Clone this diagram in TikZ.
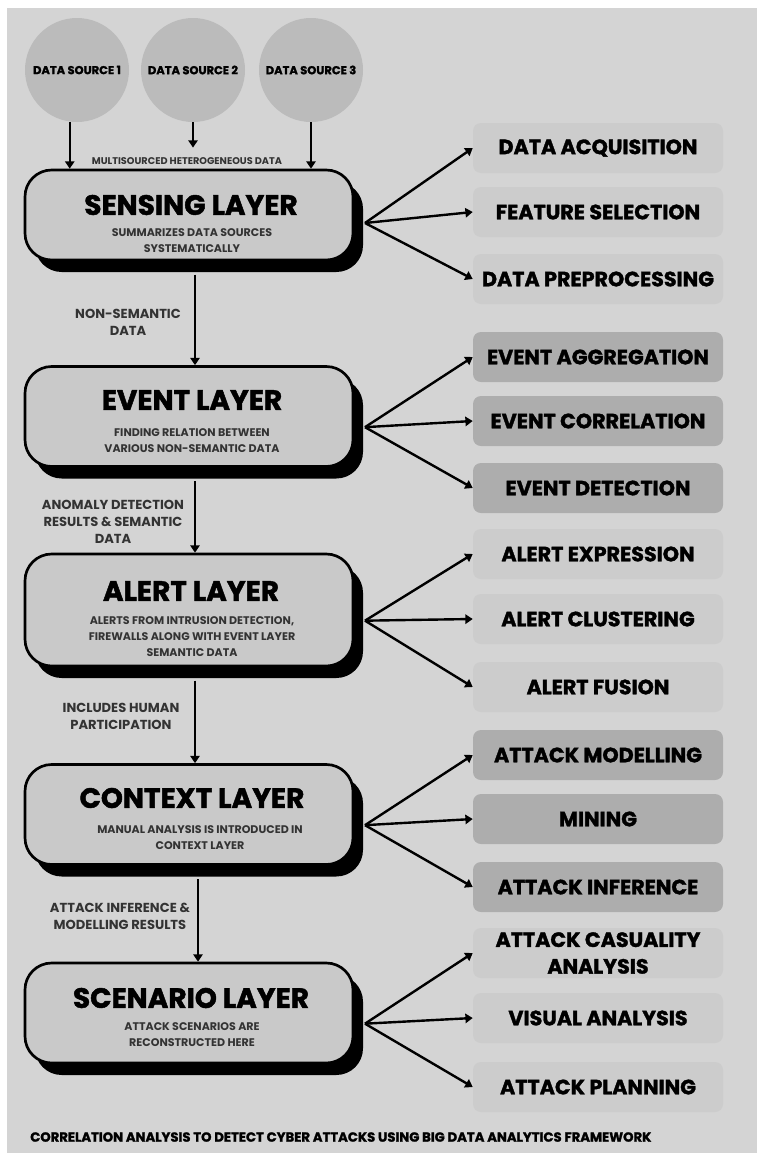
\documentclass[tikz,border=0pt]{standalone}
\usepackage{fontspec}
\newfontfamily\pop{Poppins}
\newfontfamily\popx{Poppins}[BoldFeatures={FakeBold=1.6}]
\usetikzlibrary{arrows.meta,shadows}

\definecolor{bg}{HTML}{D4D4D4}
\definecolor{circfill}{HTML}{BBBBBB}
\definecolor{layerfill}{HTML}{C9C9C9}
\definecolor{lightfill}{HTML}{CCCCCC}
\definecolor{darkfill}{HTML}{ADADAD}
\definecolor{subgray}{HTML}{333333}

\tikzset{
  layerbox/.style={draw=black, line width=2pt, fill=layerfill, rounded corners=20pt,
    minimum width=246pt, minimum height=75pt, inner sep=0pt,
    drop shadow={shadow xshift=7.5pt, shadow yshift=-9pt, fill=black, opacity=1}},
  ltitle/.style={font=\popx\bfseries\fontsize{21}{24}\selectfont, inner sep=0pt},
  lsub/.style={font=\pop\bfseries\fontsize{8.3}{12}\selectfont, text=subgray, align=center, inner sep=0pt},
  source/.style={circle, fill=circfill, minimum size=78pt, inner sep=0pt,
    font=\popx\bfseries\fontsize{8.6}{10}\selectfont},
  subbox/.style={rounded corners=6pt, minimum width=187.5pt, minimum height=37.5pt,
    inner sep=0pt, align=center, font=\popx\bfseries\fontsize{15.5}{20}\selectfont},
  lightbox/.style={subbox, fill=lightfill},
  darkbox/.style={subbox, fill=darkfill},
  edgelabel/.style={font=\pop\bfseries\fontsize{9.8}{12.75}\selectfont, text=subgray, align=center, inner sep=0pt},
  arr/.style={line width=1.8pt, -{Triangle[length=5.5pt,width=7pt]}},
}

\begin{document}
\begin{tikzpicture}[x=0.75pt, y=-0.75pt]
  \useasboundingbox (0,0) rectangle (757,1153);
  \fill[white] (0,0) rectangle (757,1153);
  \fill[bg] (7,8) rectangle (757,1153);

  % data sources
  \node[source] (c1) at (77,70) {DATA SOURCE 1};
  \node[source] (c2) at (193,70) {DATA SOURCE 2};
  \node[source] (c3) at (311,70) {DATA SOURCE 3};

  % layers
  \node[layerbox, minimum height=67.5pt] (sense) at (189,215) {};
  \node[layerbox] (event) at (189,416.5) {};
  \node[layerbox, minimum height=84pt] (alert) at (189,610) {};
  \node[layerbox] (context) at (189,814.5) {};
  \node[layerbox] (scenario) at (189,1013) {};

  \node[ltitle] (senseT) at (191,205) {SENSING LAYER};
  \node[lsub] (senseS) at (192,241) {SUMMARIZES DATA SOURCES\\SYSTEMATICALLY};
  \node[ltitle] (eventT) at (192,400) {EVENT LAYER};
  \node[lsub] (eventS) at (192,441) {FINDING RELATION BETWEEN\\VARIOUS NON-SEMANTIC DATA};
  \node[ltitle] (alertT) at (191,591) {ALERT LAYER};
  \node[lsub] (alertS) at (192,637) {ALERTS FROM INTRUSION DETECTION,\\FIREWALLS ALONG WITH EVENT LAYER\\SEMANTIC DATA};
  \node[ltitle] (contextT) at (192,798) {CONTEXT LAYER};
  \node[lsub] (contextS) at (200,838) {MANUAL ANALYSIS IS INTRODUCED IN\\CONTEXT LAYER};
  \node[ltitle] (scenarioT) at (191,998) {SCENARIO LAYER};
  \node[lsub] (scenarioS) at (192,1035) {ATTACK SCENARIOS ARE\\RECONSTRUCTED HERE};

  % source arrows
  \node[edgelabel, font=\pop\bfseries\fontsize{7.3}{9}\selectfont] (multi) at (187,161) {MULTISOURCED HETEROGENEOUS DATA};
  \draw[arr] (c1.262) -- (c1.262 |- sense.north);
  \coordinate (c2end) at ([yshift=-19pt]c2.south);
  \draw[arr] (c2.south) -- (c2end);
  \draw[arr] (c3.south) -- (c3.south |- sense.north);

  % layer to layer
  \draw[arr] ([xshift=4.5pt,yshift=-10pt]sense.south) -- ([xshift=4.5pt]event.north);
  \draw[arr] ([xshift=4.5pt,yshift=-10pt]event.south) -- ([xshift=4.5pt]alert.north);
  \draw[arr] ([xshift=4.5pt,yshift=-10pt]alert.south) -- ([xshift=4.5pt]context.north);
  \draw[arr] ([xshift=6.75pt,yshift=-10pt]context.south) -- ([xshift=6.75pt]scenario.north);

  \node[edgelabel] (l1) at (128,322) {NON-SEMANTIC\\DATA};
  \node[edgelabel] (l2) at (113,522) {ANOMALY DETECTION\\RESULTS \& SEMANTIC\\DATA};
  \node[edgelabel] (l3) at (121,716) {INCLUDES HUMAN\\PARTICIPATION};
  \node[edgelabel] (l4) at (120,916) {ATTACK INFERENCE \&\\MODELLING RESULTS};

  % sub-steps
  \node[lightbox] (da) at (598,148) {DATA ACQUISITION};
  \node[lightbox] (fs) at (598,212) {FEATURE SELECTION};
  \node[lightbox] (dp) at (598,279) {DATA PREPROCESSING};
  \node[darkbox] (ea) at (598,357) {EVENT AGGREGATION};
  \node[darkbox] (ec) at (598,421) {EVENT CORRELATION};
  \node[darkbox] (ed) at (598,488) {EVENT DETECTION};
  \node[lightbox] (ae) at (598,554) {ALERT EXPRESSION};
  \node[lightbox] (ac) at (598,619) {ALERT CLUSTERING};
  \node[lightbox] (af) at (598,687) {ALERT FUSION};
  \node[darkbox] (am) at (598,755) {ATTACK MODELLING};
  \node[darkbox] (mi) at (598,819) {MINING};
  \node[darkbox] (ai) at (598,887) {ATTACK INFERENCE};
  \node[lightbox] (aca) at (598,953) {ATTACK CASUALITY\\ANALYSIS};
  \node[lightbox] (va) at (598,1018) {VISUAL ANALYSIS};
  \node[lightbox] (ap) at (598,1087) {ATTACK PLANNING};

  % fans
  \coordinate (senseO) at ([xshift=8pt,yshift=-6pt]sense.east);
  \coordinate (eventO) at ([xshift=8pt,yshift=-8pt]event.east);
  \coordinate (alertO) at ([xshift=8pt,yshift=-8pt]alert.east);
  \coordinate (contextO) at ([xshift=8pt,yshift=-8pt]context.east);
  \coordinate (scenarioO) at ([xshift=8pt,yshift=-8pt]scenario.east);
  \foreach \o/\a/\b/\c in {senseO/da/fs/dp, eventO/ea/ec/ed, alertO/ae/ac/af,
                           contextO/am/mi/ai, scenarioO/aca/va/ap}{
    \draw[arr] (\o) -- (\a.west);
    \draw[arr] (\o) -- (\b.west);
    \draw[arr] (\o) -- (\c.west);
  }

  % caption
  \node[anchor=west, inner sep=0pt, font=\popx\bfseries\fontsize{9.9}{12}\selectfont] (caption) at (30,1137)
    {CORRELATION ANALYSIS TO DETECT CYBER ATTACKS USING BIG DATA ANALYTICS FRAMEWORK};
\end{tikzpicture}
\end{document}
